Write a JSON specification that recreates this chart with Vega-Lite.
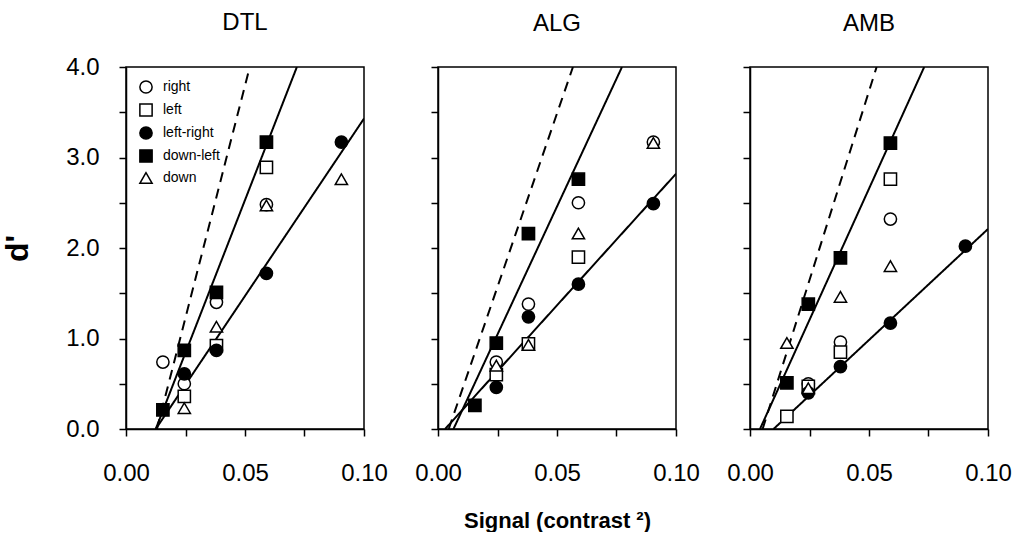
{
  "$schema": "https://vega.github.io/schema/vega-lite/v6.json",
  "background": "white",
  "padding": {"left": 0, "top": 10, "right": 0, "bottom": 0},
  "datasets": {
    "pts": [
      {"panel": "DTL", "cond": "right", "signal": 0.0155, "dprime": 0.74},
      {"panel": "DTL", "cond": "right", "signal": 0.0245, "dprime": 0.50},
      {"panel": "DTL", "cond": "right", "signal": 0.038, "dprime": 1.40},
      {"panel": "DTL", "cond": "right", "signal": 0.059, "dprime": 2.48},
      {"panel": "DTL", "cond": "left", "signal": 0.0245, "dprime": 0.36},
      {"panel": "DTL", "cond": "left", "signal": 0.038, "dprime": 0.92},
      {"panel": "DTL", "cond": "left", "signal": 0.059, "dprime": 2.89},
      {"panel": "DTL", "cond": "left-right", "signal": 0.0245, "dprime": 0.61},
      {"panel": "DTL", "cond": "left-right", "signal": 0.038, "dprime": 0.87},
      {"panel": "DTL", "cond": "left-right", "signal": 0.059, "dprime": 1.72},
      {"panel": "DTL", "cond": "left-right", "signal": 0.0905, "dprime": 3.17},
      {"panel": "DTL", "cond": "down-left", "signal": 0.0155, "dprime": 0.21},
      {"panel": "DTL", "cond": "down-left", "signal": 0.0245, "dprime": 0.87},
      {"panel": "DTL", "cond": "down-left", "signal": 0.038, "dprime": 1.51},
      {"panel": "DTL", "cond": "down-left", "signal": 0.059, "dprime": 3.17},
      {"panel": "DTL", "cond": "down", "signal": 0.0245, "dprime": 0.23},
      {"panel": "DTL", "cond": "down", "signal": 0.038, "dprime": 1.13},
      {"panel": "DTL", "cond": "down", "signal": 0.059, "dprime": 2.47},
      {"panel": "DTL", "cond": "down", "signal": 0.0905, "dprime": 2.76},

      {"panel": "ALG", "cond": "right", "signal": 0.0245, "dprime": 0.74},
      {"panel": "ALG", "cond": "right", "signal": 0.038, "dprime": 1.38},
      {"panel": "ALG", "cond": "right", "signal": 0.059, "dprime": 2.50},
      {"panel": "ALG", "cond": "right", "signal": 0.0905, "dprime": 3.17},
      {"panel": "ALG", "cond": "left", "signal": 0.0245, "dprime": 0.60},
      {"panel": "ALG", "cond": "left", "signal": 0.038, "dprime": 0.94},
      {"panel": "ALG", "cond": "left", "signal": 0.059, "dprime": 1.90},
      {"panel": "ALG", "cond": "left-right", "signal": 0.0245, "dprime": 0.46},
      {"panel": "ALG", "cond": "left-right", "signal": 0.038, "dprime": 1.24},
      {"panel": "ALG", "cond": "left-right", "signal": 0.059, "dprime": 1.60},
      {"panel": "ALG", "cond": "left-right", "signal": 0.0905, "dprime": 2.49},
      {"panel": "ALG", "cond": "down-left", "signal": 0.0155, "dprime": 0.26},
      {"panel": "ALG", "cond": "down-left", "signal": 0.0245, "dprime": 0.95},
      {"panel": "ALG", "cond": "down-left", "signal": 0.038, "dprime": 2.16},
      {"panel": "ALG", "cond": "down-left", "signal": 0.059, "dprime": 2.76},
      {"panel": "ALG", "cond": "down", "signal": 0.0245, "dprime": 0.70},
      {"panel": "ALG", "cond": "down", "signal": 0.038, "dprime": 0.93},
      {"panel": "ALG", "cond": "down", "signal": 0.059, "dprime": 2.16},
      {"panel": "ALG", "cond": "down", "signal": 0.0905, "dprime": 3.16},

      {"panel": "AMB", "cond": "right", "signal": 0.0245, "dprime": 0.50},
      {"panel": "AMB", "cond": "right", "signal": 0.038, "dprime": 0.96},
      {"panel": "AMB", "cond": "right", "signal": 0.059, "dprime": 2.32},
      {"panel": "AMB", "cond": "left", "signal": 0.0155, "dprime": 0.14},
      {"panel": "AMB", "cond": "left", "signal": 0.0245, "dprime": 0.47},
      {"panel": "AMB", "cond": "left", "signal": 0.038, "dprime": 0.85},
      {"panel": "AMB", "cond": "left", "signal": 0.059, "dprime": 2.76},
      {"panel": "AMB", "cond": "left-right", "signal": 0.0245, "dprime": 0.40},
      {"panel": "AMB", "cond": "left-right", "signal": 0.038, "dprime": 0.69},
      {"panel": "AMB", "cond": "left-right", "signal": 0.059, "dprime": 1.17},
      {"panel": "AMB", "cond": "left-right", "signal": 0.0905, "dprime": 2.02},
      {"panel": "AMB", "cond": "down-left", "signal": 0.0155, "dprime": 0.51},
      {"panel": "AMB", "cond": "down-left", "signal": 0.0245, "dprime": 1.38},
      {"panel": "AMB", "cond": "down-left", "signal": 0.038, "dprime": 1.89},
      {"panel": "AMB", "cond": "down-left", "signal": 0.059, "dprime": 3.16},
      {"panel": "AMB", "cond": "down", "signal": 0.0155, "dprime": 0.95},
      {"panel": "AMB", "cond": "down", "signal": 0.0245, "dprime": 0.45},
      {"panel": "AMB", "cond": "down", "signal": 0.038, "dprime": 1.46},
      {"panel": "AMB", "cond": "down", "signal": 0.059, "dprime": 1.80}
    ],
    "fits": [
      {"panel": "DTL", "fit": "ideal", "signal": 0.013, "dprime": 0},
      {"panel": "DTL", "fit": "ideal", "signal": 0.052, "dprime": 4},
      {"panel": "DTL", "fit": "steep", "signal": 0.0125, "dprime": 0},
      {"panel": "DTL", "fit": "steep", "signal": 0.0718, "dprime": 4},
      {"panel": "DTL", "fit": "shallow", "signal": 0.0125, "dprime": 0},
      {"panel": "DTL", "fit": "shallow", "signal": 0.1, "dprime": 3.43},
      {"panel": "ALG", "fit": "ideal", "signal": 0.0045, "dprime": 0},
      {"panel": "ALG", "fit": "ideal", "signal": 0.0567, "dprime": 4},
      {"panel": "ALG", "fit": "steep", "signal": 0.0065, "dprime": 0},
      {"panel": "ALG", "fit": "steep", "signal": 0.0773, "dprime": 4},
      {"panel": "ALG", "fit": "shallow", "signal": 0.003, "dprime": 0},
      {"panel": "ALG", "fit": "shallow", "signal": 0.1, "dprime": 2.82},
      {"panel": "AMB", "fit": "ideal", "signal": 0.0053, "dprime": 0},
      {"panel": "AMB", "fit": "ideal", "signal": 0.0532, "dprime": 4},
      {"panel": "AMB", "fit": "steep", "signal": 0.0042, "dprime": 0},
      {"panel": "AMB", "fit": "steep", "signal": 0.0732, "dprime": 4},
      {"panel": "AMB", "fit": "shallow", "signal": 0.0099, "dprime": 0},
      {"panel": "AMB", "fit": "shallow", "signal": 0.1, "dprime": 2.21}
    ]
  },
  "config": {
    "font": "Liberation Sans",
    "view": {"stroke": "black", "strokeWidth": 1.5},
    "title": {"fontSize": 24, "fontWeight": "normal", "color": "black", "anchor": "middle", "offset": 30, "font": "Liberation Sans"},
    "axis": {
      "grid": false,
      "domainColor": "black",
      "domainWidth": 1.5,
      "tickColor": "black",
      "tickWidth": 1.5,
      "tickSize": 7,
      "labelFont": "Liberation Sans",
      "labelFontSize": 24,
      "labelColor": "black",
      "titleFont": "Liberation Sans",
      "titleColor": "black"
    },
    "legend": {
      "labelFont": "Liberation Sans",
      "labelFontSize": 14,
      "labelColor": "black",
      "symbolStrokeWidth": 1.5,
      "symbolSize": 150,
      "rowPadding": 3,
      "labelOffset": 10,
      "padding": 0
    }
  },
  "spacing": 24,
  "resolve": {"scale": {"shape": "independent", "fill": "independent", "stroke": "independent", "strokeDash": "independent"}},
  "hconcat": [
    {
      "title": {"text": "DTL", "offset": 20},
      "width": 238,
      "height": 362,
      "layer": [
        {
          "data": {"name": "fits"},
          "transform": [{"filter": "datum.panel === 'DTL'"}],
          "mark": {"type": "line", "color": "black", "strokeWidth": 2, "clip": true},
          "encoding": {
            "x": {"field": "signal", "type": "quantitative", "scale": {"domain": [0, 0.1], "nice": false, "zero": false},
              "axis": {"values": [0, 0.025, 0.05, 0.075, 0.1], "labelExpr": "abs(datum.value * 20 - round(datum.value * 20)) < 1e-6 ? format(datum.value, '.2f') : ''", "labelPadding": 25, "labelFlush": false, "title": null}},
            "y": {"field": "dprime", "type": "quantitative", "scale": {"domain": [0, 4], "nice": false},
              "axis": {"values": [0, 0.5, 1, 1.5, 2, 2.5, 3, 3.5, 4], "labelExpr": "datum.value % 1 === 0 ? format(datum.value, '.1f') : ''", "labelPadding": 20, "title": "d'", "titleFontSize": 32, "titleFontWeight": "bold", "titlePadding": 31}},
            "detail": {"field": "fit"},
            "strokeDash": {"field": "fit", "type": "nominal", "scale": {"domain": ["ideal", "steep", "shallow"], "range": [[10, 7], [1, 0], [1, 0]]}, "legend": null}
          }
        },
        {
          "data": {"name": "pts"},
          "transform": [{"filter": "datum.panel === 'DTL'"}],
          "mark": {"type": "point", "filled": true, "strokeWidth": 1.5, "size": 150, "opacity": 1},
          "encoding": {
            "x": {"field": "signal", "type": "quantitative"},
            "y": {"field": "dprime", "type": "quantitative"},
            "shape": {"field": "cond", "type": "nominal", "scale": {"domain": ["right", "left", "left-right", "down-left", "down"], "range": ["circle", "square", "circle", "square", "triangle-up"]},
              "legend": {"title": null, "orient": "top-left", "offset": 13}},
            "fill": {"field": "cond", "type": "nominal", "scale": {"domain": ["right", "left", "left-right", "down-left", "down"], "range": ["white", "white", "black", "black", "white"]},
              "legend": {"title": null, "orient": "top-left", "offset": 13}},
            "stroke": {"field": "cond", "type": "nominal", "scale": {"domain": ["right", "left", "left-right", "down-left", "down"], "range": ["black", "black", "black", "black", "black"]},
              "legend": {"title": null, "orient": "top-left", "offset": 13}}
          }
        }
      ]
    },
    {
      "title": "ALG",
      "width": 238,
      "height": 362,
      "layer": [
        {
          "data": {"name": "fits"},
          "transform": [{"filter": "datum.panel === 'ALG'"}],
          "mark": {"type": "line", "color": "black", "strokeWidth": 2, "clip": true},
          "encoding": {
            "x": {"field": "signal", "type": "quantitative", "scale": {"domain": [0, 0.1], "nice": false, "zero": false},
              "axis": {"values": [0, 0.025, 0.05, 0.075, 0.1], "labelExpr": "abs(datum.value * 20 - round(datum.value * 20)) < 1e-6 ? format(datum.value, '.2f') : ''", "labelPadding": 25, "labelFlush": false, "title": "Signal (contrast ²)", "titleFontSize": 22, "titleFontWeight": "bold", "titlePadding": 25}},
            "y": {"field": "dprime", "type": "quantitative", "scale": {"domain": [0, 4], "nice": false},
              "axis": {"values": [0, 0.5, 1, 1.5, 2, 2.5, 3, 3.5, 4], "labels": false, "title": null}},
            "detail": {"field": "fit"},
            "strokeDash": {"field": "fit", "type": "nominal", "scale": {"domain": ["ideal", "steep", "shallow"], "range": [[10, 7], [1, 0], [1, 0]]}, "legend": null}
          }
        },
        {
          "data": {"name": "pts"},
          "transform": [{"filter": "datum.panel === 'ALG'"}],
          "mark": {"type": "point", "filled": true, "stroke": "black", "strokeWidth": 1.5, "size": 150, "opacity": 1},
          "encoding": {
            "x": {"field": "signal", "type": "quantitative"},
            "y": {"field": "dprime", "type": "quantitative"},
            "shape": {"field": "cond", "type": "nominal", "scale": {"domain": ["right", "left", "left-right", "down-left", "down"], "range": ["circle", "square", "circle", "square", "triangle-up"]}, "legend": null},
            "fill": {"field": "cond", "type": "nominal", "scale": {"domain": ["right", "left", "left-right", "down-left", "down"], "range": ["white", "white", "black", "black", "white"]}, "legend": null}
          }
        }
      ]
    },
    {
      "title": "AMB",
      "width": 238,
      "height": 362,
      "layer": [
        {
          "data": {"name": "fits"},
          "transform": [{"filter": "datum.panel === 'AMB'"}],
          "mark": {"type": "line", "color": "black", "strokeWidth": 2, "clip": true},
          "encoding": {
            "x": {"field": "signal", "type": "quantitative", "scale": {"domain": [0, 0.1], "nice": false, "zero": false},
              "axis": {"values": [0, 0.025, 0.05, 0.075, 0.1], "labelExpr": "abs(datum.value * 20 - round(datum.value * 20)) < 1e-6 ? format(datum.value, '.2f') : ''", "labelPadding": 25, "labelFlush": false, "title": null}},
            "y": {"field": "dprime", "type": "quantitative", "scale": {"domain": [0, 4], "nice": false},
              "axis": {"values": [0, 0.5, 1, 1.5, 2, 2.5, 3, 3.5, 4], "labels": false, "title": null}},
            "detail": {"field": "fit"},
            "strokeDash": {"field": "fit", "type": "nominal", "scale": {"domain": ["ideal", "steep", "shallow"], "range": [[10, 7], [1, 0], [1, 0]]}, "legend": null}
          }
        },
        {
          "data": {"name": "pts"},
          "transform": [{"filter": "datum.panel === 'AMB'"}],
          "mark": {"type": "point", "filled": true, "stroke": "black", "strokeWidth": 1.5, "size": 150, "opacity": 1},
          "encoding": {
            "x": {"field": "signal", "type": "quantitative"},
            "y": {"field": "dprime", "type": "quantitative"},
            "shape": {"field": "cond", "type": "nominal", "scale": {"domain": ["right", "left", "left-right", "down-left", "down"], "range": ["circle", "square", "circle", "square", "triangle-up"]}, "legend": null},
            "fill": {"field": "cond", "type": "nominal", "scale": {"domain": ["right", "left", "left-right", "down-left", "down"], "range": ["white", "white", "black", "black", "white"]}, "legend": null}
          }
        }
      ]
    }
  ]
}
